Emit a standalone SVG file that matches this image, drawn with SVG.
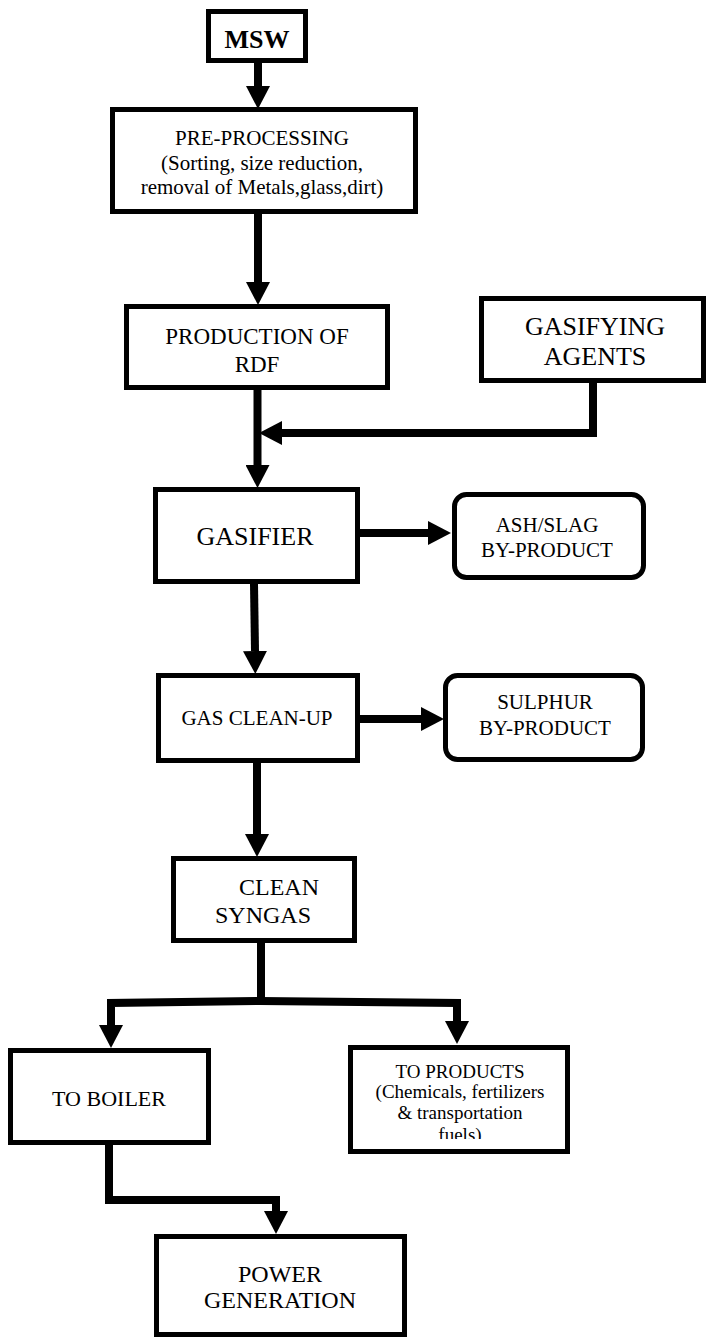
<svg xmlns="http://www.w3.org/2000/svg" width="707" height="1339" viewBox="0 0 707 1339">
<style>
.box{fill:#fff;stroke:#000;stroke-width:5}
.rbox{fill:#fff;stroke:#000;stroke-width:5}
.t{font-family:"Liberation Serif","Times New Roman",serif;fill:#000;text-anchor:middle}
.c{fill:none;stroke:#000;stroke-width:8;stroke-linejoin:miter;stroke-linecap:butt}
</style>
<defs>
<marker id="ah" markerUnits="userSpaceOnUse" markerWidth="23" markerHeight="24" refX="0" refY="12" orient="auto" viewBox="0 0 23 24">
<path d="M0,0 L23,12 L0,24 z" fill="#000"/>
</marker>
<clipPath id="clipProd"><rect x="350" y="1047" width="218" height="92"/></clipPath>
</defs>
<rect width="707" height="1339" fill="#fff"/>
<g id="connectors">
<path class="c" d="M258,63 L258,86" marker-end="url(#ah)"/>
<path class="c" d="M258,213 L258,282" marker-end="url(#ah)"/>
<path class="c" d="M257.5,389 L257.5,465" marker-end="url(#ah)"/>
<path class="c" d="M593,383 L593,433 L282,433" marker-end="url(#ah)"/>
<path class="c" d="M360,533 L428,533" marker-end="url(#ah)"/>
<path class="c" d="M254,584 L255,651" marker-end="url(#ah)"/>
<path class="c" d="M359,719 L421,719" marker-end="url(#ah)"/>
<path class="c" d="M257,763 L257,834" marker-end="url(#ah)"/>
<path class="c" d="M261,943 L261,1004"/>
<path class="c" d="M262,1001 L111,1003 L111,1025" marker-end="url(#ah)"/>
<path class="c" d="M260,1001 L457,1003 L457,1021" marker-end="url(#ah)"/>
<path class="c" d="M109,1145 L109,1200 L276,1200 L276,1211" marker-end="url(#ah)"/>
</g>
<g id="msw">
<rect class="box" x="208.5" y="11.5" width="97" height="49"/>
<text class="t" x="257" y="48" font-size="26" font-weight="bold">MSW</text>
</g>
<g id="preprocessing">
<rect class="box" x="112.5" y="109.5" width="303" height="102"/>
<text class="t" font-size="21"><tspan x="262" y="145">PRE-PROCESSING</tspan><tspan x="262" y="170">(Sorting, size reduction,</tspan><tspan x="262" y="194">removal of Metals,glass,dirt)</tspan></text>
</g>
<g id="production">
<rect class="box" x="126.5" y="306.5" width="261" height="81"/>
<text class="t" font-size="23"><tspan x="257" y="344">PRODUCTION OF</tspan><tspan x="257" y="372">RDF</tspan></text>
</g>
<g id="gasifying-agents">
<rect class="box" x="481.5" y="298.5" width="222" height="82"/>
<text class="t" font-size="26"><tspan x="595" y="335">GASIFYING</tspan><tspan x="595" y="365">AGENTS</tspan></text>
</g>
<g id="gasifier">
<rect class="box" x="155.5" y="489.5" width="202" height="92"/>
<text class="t" x="255" y="545" font-size="26">GASIFIER</text>
</g>
<g id="ash-slag">
<rect class="rbox" x="454.5" y="494.5" width="189" height="83" rx="12" ry="12"/>
<text class="t" font-size="21"><tspan x="547" y="532">ASH/SLAG</tspan><tspan x="547" y="557">BY-PRODUCT</tspan></text>
</g>
<g id="gas-cleanup">
<rect class="box" x="158.5" y="675.5" width="199" height="85"/>
<text class="t" x="257" y="725" font-size="21">GAS CLEAN-UP</text>
</g>
<g id="sulphur">
<rect class="rbox" x="445.5" y="675.5" width="197" height="84" rx="12" ry="12"/>
<text class="t" font-size="21"><tspan x="545" y="709">SULPHUR</tspan><tspan x="545" y="735">BY-PRODUCT</tspan></text>
</g>
<g id="clean-syngas">
<rect class="box" x="173.5" y="858.5" width="181" height="82"/>
<text class="t" font-size="24"><tspan x="279" y="895">CLEAN</tspan><tspan x="263" y="923">SYNGAS</tspan></text>
</g>
<g id="to-boiler">
<rect class="box" x="10.5" y="1050.5" width="198" height="92"/>
<text class="t" x="109" y="1106" font-size="22">TO BOILER</text>
</g>
<g id="to-products">
<rect class="box" x="350.5" y="1047.5" width="217" height="104"/>
<text class="t" font-size="19" clip-path="url(#clipProd)"><tspan x="460" y="1078">TO PRODUCTS</tspan><tspan x="460" y="1098">(Chemicals, fertilizers</tspan><tspan x="460" y="1119">&amp; transportation</tspan><tspan x="460" y="1141">fuels)</tspan></text>
</g>
<g id="power-generation">
<rect class="box" x="156.5" y="1236.5" width="248" height="98"/>
<text class="t" font-size="24"><tspan x="280" y="1282">POWER</tspan><tspan x="280" y="1308">GENERATION</tspan></text>
</g>
</svg>
